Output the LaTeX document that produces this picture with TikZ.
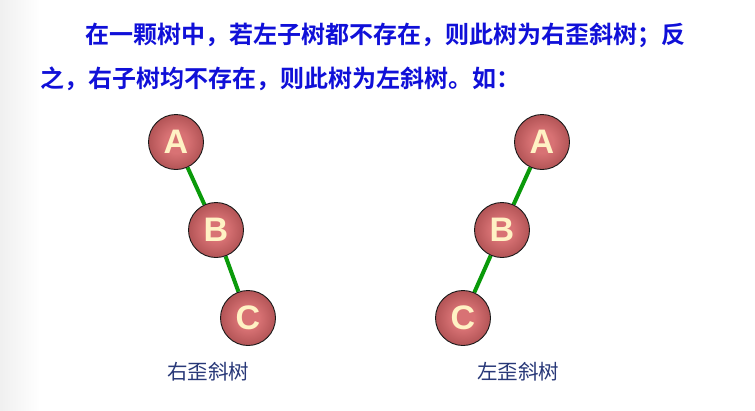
\documentclass[tikz,border=0pt]{standalone}
\usepackage{fontspec}
\setmainfont{Liberation Sans}
\newfontfamily\cjk{Noto Sans CJK SC}[BoldFont={* Bold}]
\definecolor{titleblue}{HTML}{1010D8}
\definecolor{labelnavy}{HTML}{283878}
\definecolor{edgegreen}{HTML}{0A9A0A}
\definecolor{ballin}{HTML}{D87274}
\definecolor{ballmid}{HTML}{A64A4C}
\definecolor{balldark}{HTML}{7A2E30}
\definecolor{ballout}{HTML}{4E1818}
\definecolor{lettercol}{HTML}{FFF2C4}
\pgfdeclareradialshading{ballshade}{\pgfpoint{0bp}{0bp}}{color(0bp)=(ballin); color(10bp)=(ballin); color(30bp)=(ballmid); color(44bp)=(balldark); color(50bp)=(ballout)}
\pgfdeclarelayer{bg}
\pgfsetlayers{bg,main}
\begin{document}
\begin{tikzpicture}[x=1pt,y=-1pt,
  ball/.style={circle, minimum size=55pt, inner sep=0pt, shading=ballshade, draw=black!90, line width=0.9pt,
    font=\fontsize{34}{34}\selectfont\bfseries, text=lettercol},
  treeedge/.style={draw=edgegreen, line width=4pt},
  titletext/.style={anchor=west, inner sep=0pt, font=\cjk\fontsize{24}{24}\selectfont\bfseries, text=titleblue},
  treecaption/.style={inner sep=0pt, font=\cjk\fontsize{20.5}{20.5}\selectfont, text=labelnavy}]
\useasboundingbox (0,0) rectangle (755,410);
\begin{pgfonlayer}{bg}
\fill[white] (0,0) rectangle (755,410);
\shade[left color=black!6, right color=white] (0,0) rectangle (40,410);
\end{pgfonlayer}
% title text
\node[titletext] (t1) at (85,35) {在一颗树中，若左子树都不存在，则此树为右歪斜树；反};
\node[titletext] (t2) at (40,79) {之，右子树均不存在，则此树为左斜树。如：};
% left tree (right-skewed)
\node[ball] (la) at (176,142) {A};
\node[ball] (lb) at (216,230) {B};
\node[ball] (lc) at (248,318) {C};
% right tree (left-skewed)
\node[ball] (ra) at (542,142) {A};
\node[ball] (rb) at (502,230) {B};
\node[ball] (rc) at (463,318) {C};
\begin{pgfonlayer}{bg}
\draw[treeedge] (la) -- (lb);
\draw[treeedge] (lb) -- (lc);
\draw[treeedge] (ra) -- (rb);
\draw[treeedge] (rb) -- (rc);
\end{pgfonlayer}
\node[treecaption] (lcap) at (208,372) {右歪斜树};
\node[treecaption] (rcap) at (518,372) {左歪斜树};
\end{tikzpicture}
\end{document}
